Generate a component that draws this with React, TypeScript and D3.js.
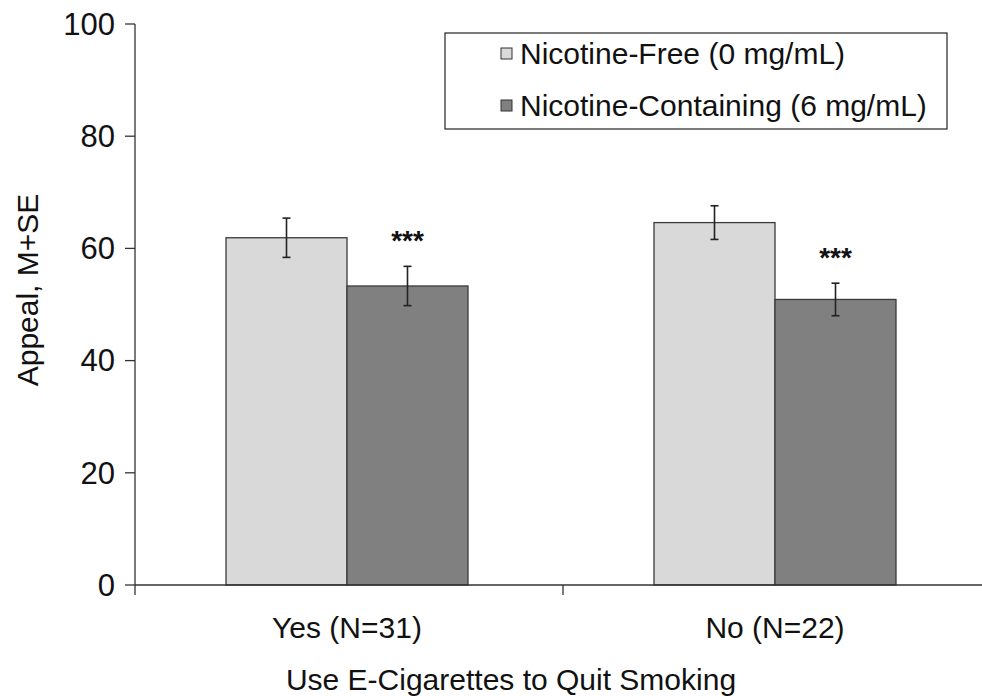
import React from "react";
import * as d3 from "d3";

const categories = ["Yes (N=31)", "No (N=22)"];
const seriesNames = ["Nicotine-Free (0 mg/mL)", "Nicotine-Containing (6 mg/mL)"];
const nicotineFree = [61.9, 64.6];
const nicotineFreeSE = [3.5, 3.0];
const nicotineContaining = [53.3, 50.9];
const nicotineContainingSE = [3.5, 2.9];
const significance = ["***", "***"];
const yTicks = [0, 20, 40, 60, 80, 100];

const W = 982;
const H = 696;
const left = 135;
const right = 991;
const top = 24;
const bottom = 585;
const FONT = "Liberation Sans, Arial, sans-serif";
const fills = ["#d9d9d9", "#808080"];

export default function App() {
  const y = d3.scaleLinear().domain([0, 100]).range([bottom, top]);
  const x0 = d3.scaleBand().domain(categories).range([left, right]).paddingInner(0).paddingOuter(0);
  const barW = 121;
  const series = [
    { name: seriesNames[0], values: nicotineFree, se: nicotineFreeSE },
    { name: seriesNames[1], values: nicotineContaining, se: nicotineContainingSE },
  ];
  const boundaries = [left, ...categories.map((c) => (x0(c) as number) + x0.bandwidth())];

  return (
    <svg width={W} height={H} style={{ position: "absolute", left: 0, top: 0, background: "#fff" }} fontFamily={FONT}>
      {categories.map((c, ci) => {
        const cx = (x0(c) as number) + x0.bandwidth() / 2 - 2;
        return (
          <g key={c}>
            {series.map((s, si) => {
              const bx = cx - barW + si * barW;
              const v = s.values[ci];
              return (
                <rect key={si} x={bx} y={y(v)} width={barW} height={y(0) - y(v)} fill={fills[si]} stroke="#3a3a3a" strokeWidth={1.3} />
              );
            })}
            {series.map((s, si) => {
              const mx = cx - barW / 2 + si * barW;
              const v = s.values[ci];
              const e = s.se[ci];
              return (
                <g key={"e" + si} stroke="#222" strokeWidth={1.6}>
                  <line x1={mx} x2={mx} y1={y(v + e)} y2={y(v - e)} />
                  <line x1={mx - 4} x2={mx + 4} y1={y(v + e)} y2={y(v + e)} />
                  <line x1={mx - 4} x2={mx + 4} y1={y(v - e)} y2={y(v - e)} />
                </g>
              );
            })}
            <text x={cx + barW / 2} y={y(series[1].values[ci] + series[1].se[ci]) - 16} textAnchor="middle" fontSize={28} fontWeight="bold" fill="#111">
              {significance[ci]}
            </text>
            <text x={cx} y={638} textAnchor="middle" fontSize={30} fill="#111">
              {c}
            </text>
          </g>
        );
      })}
      <line x1={left} x2={left} y1={top} y2={bottom} stroke="#333" strokeWidth={1.3} />
      {yTicks.map((t) => (
        <g key={t}>
          <line x1={left - 10} x2={left} y1={y(t)} y2={y(t)} stroke="#333" strokeWidth={1.3} />
          <text x={left - 20} y={y(t)} dy="0.35em" textAnchor="end" fontSize={31} fill="#111">
            {t}
          </text>
        </g>
      ))}
      <line x1={left} x2={right} y1={bottom} y2={bottom} stroke="#333" strokeWidth={1.3} />
      {boundaries.map((b, i) => (
        <line key={i} x1={b} x2={b} y1={bottom} y2={bottom + 10} stroke="#333" strokeWidth={1.3} />
      ))}
      <text transform={`translate(38,290) rotate(-90)`} textAnchor="middle" fontSize={30} fill="#111">
        Appeal, M+SE
      </text>
      <text x={511} y={690} textAnchor="middle" fontSize={30} fill="#111">
        Use E-Cigarettes to Quit Smoking
      </text>
      <rect x={445} y={33} width={502} height={96} fill="#fff" stroke="#333" strokeWidth={1.3} />
      {series.map((s, si) => (
        <g key={s.name} transform={`translate(0,${53 + si * 52})`}>
          <rect x={501} y={-5} width={11} height={11} fill={fills[si]} stroke="#333" strokeWidth={1} />
          <text x={520} y={0} dy="0.35em" fontSize={30} fill="#111">
            {s.name}
          </text>
        </g>
      ))}
    </svg>
  );
}
